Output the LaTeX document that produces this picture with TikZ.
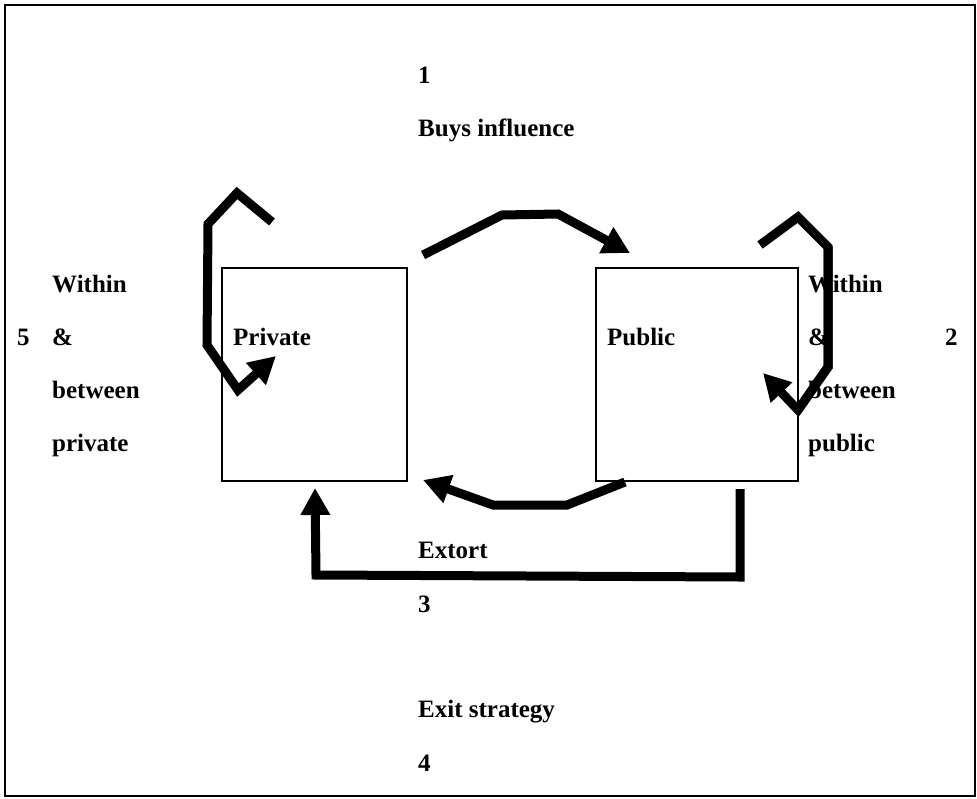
\documentclass[tikz,border=0pt]{standalone}
\usepackage{fontspec}
\setmainfont{Liberation Serif}
\usetikzlibrary{arrows.meta}
\begin{document}
\begin{tikzpicture}[x=1pt,y=-1pt,
  lbl/.style={anchor=base west,inner sep=0pt,font=\fontsize{25}{30}\selectfont\bfseries},
  sector/.style={draw,line width=1.5pt},
  flow/.style={line width=9pt,line join=miter,-{Triangle[length=27pt,width=28pt]}},
  flowline/.style={line width=9pt,line join=miter}]
\useasboundingbox (0,0) rectangle (977,798);
\draw[line width=2pt] (5,5) rectangle (975,796);

% the two sectors
\node[sector,minimum width=185pt,minimum height=213pt,inner sep=0pt,anchor=north west] (private) at (221,267) {};
\node[sector,minimum width=202pt,minimum height=213pt,inner sep=0pt,anchor=north west] (public) at (595,267) {};
\node[lbl] (privt) at (233,345) {Private};
\node[lbl] (publt) at (607,345) {Public};

% labels
\node[lbl] (n1) at (418,83) {1};
\node[lbl] (buys) at (418,136) {Buys influence};
\node[lbl] (extort) at (418,558) {Extort};
\node[lbl] (n3) at (418,612) {3};
\node[lbl] (exit) at (418,717) {Exit strategy};
\node[lbl] (n4) at (418,771) {4};

\node[lbl] (lw) at (52,292) {Within};
\node[lbl] (la) at (52,345) {\&};
\node[lbl] (lb) at (52,398) {between};
\node[lbl] (lp) at (52,451) {private};
\node[lbl] (n5) at (17,345) {5};

\node[lbl] (n2) at (945,345) {2};

% route points
\coordinate (b0) at (423,255);
\coordinate (b1) at (502,215);
\coordinate (b2) at (558,214);
\coordinate (b3) at (630,253);

\coordinate (e0) at (625,482);
\coordinate (e1) at (567,505);
\coordinate (e2) at (493,505);
\coordinate (e3) at (423,480);

\coordinate (x0) at (740,489);
\coordinate (x1) at (740,577);
\coordinate (x2) at (316,575);
\coordinate (x3) at (315,488);

\coordinate (p0) at (272,222);
\coordinate (p1) at (237,193);
\coordinate (p2) at (208,224);
\coordinate (p3) at (207,345);
\coordinate (p4) at (238,390);
\coordinate (p5) at (276,356);

\coordinate (q0) at (760,245);
\coordinate (q1) at (798,217);
\coordinate (q2) at (828,247);
\coordinate (q3) at (828,367);
\coordinate (q4) at (798,410);
\coordinate (q5) at (763,373);

% flows between and within sectors
\draw[flow] (b0) -- (b1) -- (b2) -- (b3);
\draw[flow] (e0) -- (e1) -- (e2) -- (e3);
\draw[flow] (x0) -- (x1) -- (x2) -- (x3);
\draw[flow] (p0) -- (p1) -- (p2) -- (p3) -- (p4) -- (p5);
\draw[flow] (q0) -- (q1) -- (q2) -- (q3) -- (q4) -- (q5);

% right-hand labels sit over the public loop
\node[lbl] (rw) at (808,292) {Within};
\node[lbl] (ra) at (808,345) {\&};
\node[lbl] (rb) at (808,398) {between};
\node[lbl] (rp) at (808,451) {public};
\draw[flowline] (q2) -- (q3) -- (q4);
\end{tikzpicture}
\end{document}
